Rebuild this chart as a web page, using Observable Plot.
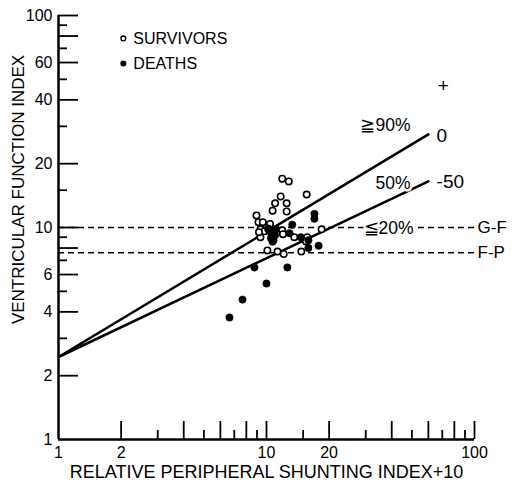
<!DOCTYPE html>
<html>
<head>
<meta charset="utf-8">
<script src="https://cdn.jsdelivr.net/npm/d3@7"></script>
<script src="https://cdn.jsdelivr.net/npm/@observablehq/plot@0.6"></script>
<style>
  html, body { margin: 0; padding: 0; background: #fff; }
  #chart svg { display: block; }
</style>
</head>
<body>
<div id="chart"></div>
<script>
// ---- data ----
const survX = [11.9, 12.8, 11.7, 15.6, 11.0, 12.5, 10.7, 12.5, 8.95, 9.15, 9.57, 10.0, 9.35, 9.78, 10.2, 9.35, 11.9, 12.0, 10.7, 10.1, 11.3, 12.1, 14.7, 15.7, 15.5, 18.4, 13.6, 9.6, 10.4, 9.2];
const survY = [17.0, 16.5, 14.0, 14.3, 13.0, 13.0, 12.0, 11.9, 11.4, 10.6, 10.1, 10.2, 9.8, 9.6, 9.8, 9.0, 9.7, 9.3, 8.6, 7.8, 7.7, 7.5, 7.7, 9.0, 8.6, 9.8, 9.0, 10.6, 10.4, 9.5];
const deathX = [6.64, 7.67, 8.75, 10.0, 12.6, 17.0, 17.0, 13.3, 17.8, 15.9, 15.9, 14.6, 12.9, 10.5, 11.0, 10.5, 11.1, 10.8, 10.2, 10.6];
const deathY = [3.76, 4.57, 6.48, 5.44, 6.48, 11.6, 11.0, 10.3, 8.2, 8.0, 8.7, 9.0, 9.4, 9.5, 9.2, 8.9, 9.8, 8.7, 9.9, 9.1];

// regression lines (log-log), endpoints
const lineX = [1, 60];
const upperY = [2.45, 27.5];   // >= 90%  (label "0")
const lowerY = [2.45, 16.5];   // 50%     (label "-50")

// class boundaries (dashed)
const boundaryY = [10, 7.6];
const boundaryNames = ["G-F", "F-P"];

// ticks
const xLabels = [1, 2, 4, 6, 8, 10, 20, 40, 60, 80, 100];
const xMajor = [2, 4, 6, 8, 10, 20, 40, 60, 80, 100];
const xMinor = [3, 5, 7, 9, 15, 30, 50, 70, 90];
const yLabels = [1, 2, 4, 6, 8, 10, 20, 40, 60, 80, 100];
const yMajor = [2, 4, 6, 8, 10, 20, 40, 60, 80, 100];
const yMinor = [3, 5, 7, 9, 15, 30, 50, 70, 90];

const legendLabels = ["SURVIVORS", "DEATHS"];
const xTitle = "RELATIVE PERIPHERAL SHUNTING INDEX+10";
const yTitle = "VENTRICULAR FUNCTION INDEX";

// annotations on the chart
const lineLabels = [
  {x: 66.5, y: 46.8, text: "+"},
  {x: 65.7, y: 26.9, text: "0"},
  {x: 65.7, y: 16.4, text: "-50"}
];
const pctLabels = [
  {x: 28.3, y: 30.3, text: "\u226790%"},
  {x: 33.4, y: 16.1, text: "50%"},
  {x: 29.3, y: 9.9, text: "\u226620%"}
];

const survivors = survX.map((x, i) => ({x, y: survY[i]}));
const deaths = deathX.map((x, i) => ({x, y: deathY[i]}));
const upper = lineX.map((x, i) => ({x, y: upperY[i]}));
const lower = lineX.map((x, i) => ({x, y: lowerY[i]}));
const boundaries = boundaryY.map((y, i) => ({y, name: boundaryNames[i]}));
const legend = [
  {x: 2.05, y: 78, label: legendLabels[0], fill: "white"},
  {x: 2.05, y: 59.4, label: legendLabels[1], fill: "black"}
];

const font = "'Liberation Sans', Arial, Helvetica, sans-serif";
const blank = () => "";

const chart = Plot.plot({
  width: 515,
  height: 487,
  marginLeft: 58,
  marginRight: 41,
  marginTop: 15,
  marginBottom: 48,
  style: {fontFamily: font, color: "black", background: "white"},
  x: {type: "log", domain: [1, 100], axis: null},
  y: {type: "log", domain: [1, 100], axis: null},
  marks: [
    // dashed boundaries
    Plot.ruleY(boundaries, {y: "y", x1: 1, x2: 100, stroke: "black", strokeWidth: 1.6, strokeDasharray: "6,4"}),
    Plot.text(boundaries, {x: 100, y: "y", text: "name", textAnchor: "start", dx: 3, fontSize: 17, fill: "black"}),
    // regression lines
    Plot.line(upper, {x: "x", y: "y", stroke: "black", strokeWidth: 2.5}),
    Plot.line(lower, {x: "x", y: "y", stroke: "black", strokeWidth: 2.5}),
    // annotations (white halo breaks dashed line)
    Plot.text(lineLabels, {x: "x", y: "y", text: "text", textAnchor: "start", fontSize: 19, fill: "black"}),
    Plot.text(pctLabels, {x: "x", y: "y", text: "text", textAnchor: "start", fontSize: 17.5, fill: "black", stroke: "white", strokeWidth: 5, paintOrder: "stroke"}),
    // data points
    Plot.dot(survivors, {x: "x", y: "y", r: 3.2, fill: "white", stroke: "black", strokeWidth: 1.6}),
    Plot.dot(deaths, {x: "x", y: "y", r: 3.7, fill: "black", stroke: "black", strokeWidth: 0.5}),
    // legend
    Plot.dot(legend, {x: "x", y: "y", r: 2.4, fill: "fill", stroke: "black", strokeWidth: 1.3}),
    Plot.text(legend, {x: "x", y: "y", text: "label", dx: 10, textAnchor: "start", fontSize: 16, fill: "black"}),
    // axis lines
    Plot.ruleX([1], {stroke: "black", strokeWidth: 2.5}),
    Plot.ruleY([1], {stroke: "black", strokeWidth: 2.5}),
    // ticks (inward)
    Plot.axisX(xMajor, {anchor: "bottom", tickSize: -18, strokeWidth: 1.8, stroke: "black", tickFormat: blank, label: null}),
    Plot.axisX(xMinor, {anchor: "bottom", tickSize: -9, strokeWidth: 1.8, stroke: "black", tickFormat: blank, label: null}),
    Plot.axisY(yMajor, {anchor: "left", tickSize: -20, strokeWidth: 1.8, stroke: "black", tickFormat: blank, label: null}),
    Plot.axisY(yMinor, {anchor: "left", tickSize: -9, strokeWidth: 1.8, stroke: "black", tickFormat: blank, label: null}),
    // tick labels
    Plot.axisX(xLabels, {anchor: "bottom", tickSize: 0, tickPadding: 7, fontSize: 16, color: "black", tickFormat: d => String(d), label: null}),
    Plot.axisY(yLabels, {anchor: "left", tickSize: 0, tickPadding: 6, fontSize: 16, color: "black", tickFormat: d => String(d), label: null}),
    // axis titles
    Plot.text([xTitle], {frameAnchor: "bottom", dy: 33, fontSize: 18, fill: "black", lineAnchor: "middle", textAnchor: "middle"}),
    Plot.text([yTitle], {frameAnchor: "left", dx: -40, dy: -38, rotate: -90, fontSize: 17, fill: "black", lineAnchor: "middle", textAnchor: "middle"})
  ]
});

document.getElementById("chart").appendChild(chart);
</script>
</body>
</html>
